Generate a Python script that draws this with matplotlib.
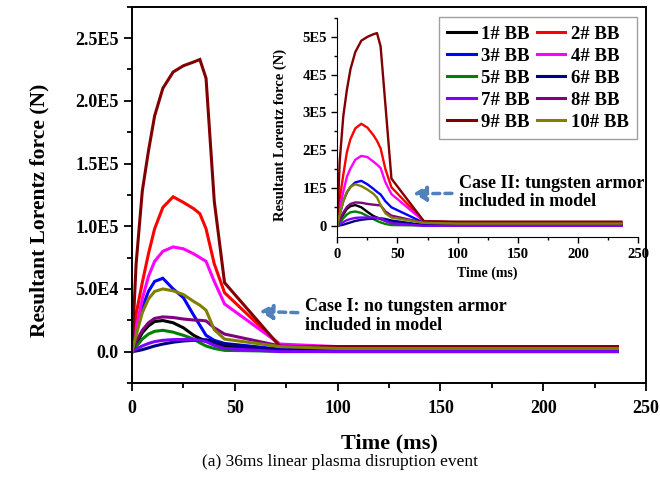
import matplotlib
matplotlib.use("Agg")
import matplotlib.pyplot as plt
from matplotlib.ticker import FixedLocator, MultipleLocator, FuncFormatter

plt.rcParams['font.family'] = ['Liberation Serif', 'DejaVu Serif']
plt.rcParams['font.weight'] = 'bold'

# time points (ms)
t = [0, 2, 5, 8, 11, 15, 20, 25, 30, 33, 36, 40, 45, 72, 100, 150, 200, 236]

names = ['1# BB', '2# BB', '3# BB', '4# BB', '5# BB',
         '6# BB', '7# BB', '8# BB', '9# BB', '10# BB']
colors = ['#000000', '#ff0000', '#0000ff', '#ff00ff', '#008000',
          '#000080', '#8000ff', '#800080', '#800000', '#808000']

# Case I: no tungsten armor (N)
case1_bb1 = [0, 6e3, 1.5e4, 2.05e4, 2.4e4, 2.48e4, 2.3e4, 1.9e4, 1.3e4, 1.05e4, 8.5e3, 7e3, 4e3, 5e2, 5e2, 5e2, 5e2, 5e2]
case1_bb2 = [0, 3.0e4, 5.5e4, 7.8e4, 9.8e4, 1.15e5, 1.235e5, 1.19e5, 1.14e5, 1.1e5, 9.8e4, 7.0e4, 4.7e4, 5e3, 3.5e3, 3.5e3, 3.5e3, 3.5e3]
case1_bb3 = [0, 1.5e4, 3.5e4, 4.8e4, 5.6e4, 5.85e4, 5.0e4, 4.3e4, 2.9e4, 2.1e4, 1.3e4, 9e3, 6.5e3, 2e3, 1.5e3, 1.5e3, 1.5e3, 1.5e3]
case1_bb4 = [0, 1.8e4, 4.2e4, 6.0e4, 7.2e4, 8.0e4, 8.35e4, 8.2e4, 7.8e4, 7.5e4, 7.2e4, 5.6e4, 3.8e4, 6e3, 4e3, 4e3, 4e3, 4e3]
case1_bb5 = [0, 4e3, 1.0e4, 1.4e4, 1.62e4, 1.7e4, 1.55e4, 1.3e4, 1.0e4, 7e3, 4.5e3, 2.5e3, 1e3, 3e2, 0, 0, 0, 0]
case1_bb6 = [0, 5e2, 1.5e3, 3e3, 4.5e3, 6e3, 7.5e3, 8.5e3, 9e3, 9.3e3, 9.5e3, 8e3, 6e3, 1e3, 5e2, 5e2, 5e2, 5e2]
case1_bb7 = [0, 2e3, 4.5e3, 6.5e3, 8e3, 9e3, 9.6e3, 9.7e3, 9.5e3, 9e3, 8e3, 5e3, 2.5e3, 0, 0, 0, 0, 0]
case1_bb8 = [0, 8e3, 1.7e4, 2.3e4, 2.65e4, 2.77e4, 2.72e4, 2.6e4, 2.52e4, 2.5e4, 2.45e4, 1.9e4, 1.4e4, 4.5e3, 3e3, 3e3, 3e3, 3e3]
case1_bb9 = [0, 7e4, 1.28e5, 1.6e5, 1.88e5, 2.1e5, 2.23e5, 2.28e5, 2.31e5, 2.33e5, 2.18e5, 1.2e5, 5.5e4, 4e3, 4e3, 4e3, 4e3, 4e3]
case1_bb10 = [0, 1.3e4, 3.1e4, 4.2e4, 4.8e4, 5.0e4, 4.85e4, 4.55e4, 4.0e4, 3.7e4, 3.3e4, 1.75e4, 1.0e4, 4e3, 2.5e3, 2.5e3, 2.5e3, 2.5e3]

# Case II: tungsten armor included (N)
case2_bb1 = [0, 1.3e4, 3e4, 4.5e4, 5.2e4, 5.5e4, 4.9e4, 3.7e4, 2.6e4, 2.2e4, 1.8e4, 1.3e4, 8e3, 2e3, 2e3, 2e3, 2e3, 2e3]
case2_bb2 = [0, 7e4, 1.35e5, 1.95e5, 2.3e5, 2.58e5, 2.7e5, 2.6e5, 2.4e5, 2.25e5, 2.05e5, 1.5e5, 1.02e5, 1.2e4, 9e3, 9e3, 9e3, 9e3]
case2_bb3 = [0, 3e4, 6.5e4, 8.8e4, 1.03e5, 1.15e5, 1.19e5, 1.1e5, 9.8e4, 9e4, 8.3e4, 6.5e4, 4.9e4, 8e3, 5e3, 5e3, 5e3, 5e3]
case2_bb4 = [0, 4.5e4, 9e4, 1.3e5, 1.52e5, 1.75e5, 1.85e5, 1.82e5, 1.7e5, 1.62e5, 1.53e5, 1.15e5, 8.4e4, 1.2e4, 9e3, 9e3, 9e3, 9e3]
case2_bb5 = [0, 8e3, 2e4, 3e4, 3.6e4, 3.8e4, 3.4e4, 2.6e4, 1.8e4, 1.3e4, 9e3, 5e3, 2e3, 1e3, 5e2, 5e2, 5e2, 5e2]
case2_bb6 = [0, 1e3, 3e3, 6e3, 9e3, 1.3e4, 1.6e4, 1.8e4, 1.9e4, 2e4, 2e4, 1.8e4, 1.4e4, 2e3, 1e3, 1e3, 1e3, 1e3]
case2_bb7 = [0, 4e3, 1e4, 1.5e4, 1.8e4, 2.1e4, 2.2e4, 2.2e4, 2.2e4, 2.1e4, 2e4, 1.3e4, 7e3, 0, 0, 0, 0, 0]
case2_bb8 = [0, 1.5e4, 3.5e4, 5e4, 5.8e4, 6.2e4, 6.1e4, 5.8e4, 5.6e4, 5.5e4, 5.4e4, 3.8e4, 2.7e4, 8e3, 6e3, 6e3, 6e3, 6e3]
case2_bb9 = [0, 1.7e5, 2.9e5, 3.6e5, 4.15e5, 4.6e5, 4.9e5, 5.0e5, 5.07e5, 5.1e5, 4.75e5, 3.2e5, 1.25e5, 1.2e4, 1.1e4, 1.1e4, 1.1e4, 1.1e4]
case2_bb10 = [0, 3e4, 6.5e4, 9e4, 1.03e5, 1.1e5, 1.05e5, 9.6e4, 8.5e4, 7.5e4, 5.5e4, 3.3e4, 2.2e4, 8e3, 6e3, 6e3, 6e3, 6e3]

case1 = [case1_bb1, case1_bb2, case1_bb3, case1_bb4, case1_bb5,
         case1_bb6, case1_bb7, case1_bb8, case1_bb9, case1_bb10]
case2 = [case2_bb1, case2_bb2, case2_bb3, case2_bb4, case2_bb5,
         case2_bb6, case2_bb7, case2_bb8, case2_bb9, case2_bb10]

fig = plt.figure(figsize=(6.6, 4.86), dpi=100)

# main axes
ax = fig.add_axes([0.2, 0.212, 0.779, 0.774])
handles = []
for vals, c, n in zip(case1, colors, names):
    h, = ax.plot(t, vals, color=c, lw=2.2, label=n, solid_joinstyle='miter')
    handles.append(h)

ax.set_xlim(0, 250)
ax.set_ylim(-2.5e4, 2.75e5)
ax.xaxis.set_major_locator(MultipleLocator(50))
ax.xaxis.set_minor_locator(MultipleLocator(25))
ax.yaxis.set_major_locator(FixedLocator([0, 5e4, 1e5, 1.5e5, 2e5, 2.5e5]))
ax.yaxis.set_minor_locator(MultipleLocator(2.5e4))

def main_fmt(v, pos):
    if v == 0:
        return '0.0'
    s = '%.1E' % v
    m, e = s.split('E')
    return m + 'E' + str(int(e))

ax.yaxis.set_major_formatter(FuncFormatter(main_fmt))
ax.tick_params(which='both', direction='out', top=False, right=False, width=1.3)
ax.tick_params(which='major', length=6, labelsize=13)
ax.tick_params(axis='x', which='major', pad=6)
ax.tick_params(which='minor', length=3.5)
for sp in ax.spines.values():
    sp.set_linewidth(1.4)
ax.set_xlabel('Time (ms)', fontsize=16, fontweight='bold', labelpad=12)
ax.set_ylabel('Resultant Lorentz force (N)', fontsize=15.5, fontweight='bold')
ax.yaxis.set_label_coords(-0.16, 0.46)

ax.annotate('Case I: no tungsten armor\nincluded in model', xy=(62, 3.2e4), xytext=(84, 2.85e4),
            fontsize=13, fontweight='bold', va='center', ha='left', linespacing=1.1,
            arrowprops=dict(arrowstyle='-|>,head_length=0.6,head_width=0.35', color='#4f81bd',
                            lw=2.5, linestyle=(0, (2, 1.5)), shrinkA=3, shrinkB=0))

# inset axes
axi = fig.add_axes([0.511, 0.512, 0.456, 0.451])
axi.patch.set_alpha(0)
for vals, c in zip(case2, colors):
    axi.plot(t, vals, color=c, lw=1.7)
axi.set_xlim(0, 250)
axi.set_ylim(-3e4, 5.5e5)
axi.spines['top'].set_visible(False)
axi.spines['right'].set_visible(False)
axi.xaxis.set_major_locator(MultipleLocator(50))
axi.xaxis.set_minor_locator(MultipleLocator(25))
axi.yaxis.set_major_locator(FixedLocator([0, 1e5, 2e5, 3e5, 4e5, 5e5]))
axi.yaxis.set_minor_locator(MultipleLocator(5e4))

def inset_fmt(v, pos):
    if v == 0:
        return '0'
    return '%dE5' % round(v / 1e5)

axi.yaxis.set_major_formatter(FuncFormatter(inset_fmt))
axi.tick_params(which='both', direction='out', width=1)
axi.tick_params(which='major', length=4, labelsize=10.5)
axi.tick_params(which='minor', length=2.5)
axi.set_xlabel('Time (ms)', fontsize=10, fontweight='bold')
axi.set_ylabel('Resultant Lorentz force (N)', fontsize=10.5, fontweight='bold')
axi.yaxis.set_label_coords(-0.166, 0.466)

axi.annotate('Case II: tungsten armor\nincluded in model', xy=(63, 8.5e4), xytext=(101, 8.8e4),
             fontsize=13, fontweight='bold', va='center', ha='left', linespacing=1.1,
             annotation_clip=False,
             arrowprops=dict(arrowstyle='-|>,head_length=0.6,head_width=0.35', color='#4f81bd',
                             lw=2.5, linestyle=(0, (2, 1.5)), shrinkA=3, shrinkB=0))

order = [0, 2, 4, 6, 8, 1, 3, 5, 7, 9]
leg = fig.legend([handles[i] for i in order], [names[i] for i in order],
                 loc='upper left', bbox_to_anchor=(439 / 660, 1 - 17 / 486),
                 borderaxespad=0, ncol=2, fontsize=13.5, frameon=True, fancybox=False,
                 edgecolor='#888888', handlelength=1.5, handletextpad=0.3,
                 columnspacing=0.4, labelspacing=0.26, borderpad=0.45)
leg.get_frame().set_linewidth(1.0)
for txt in leg.get_texts():
    txt.set_fontweight('bold')

fig.text(0.515, 0.049, '(a) 36ms linear plasma disruption event', fontsize=12.5,
         fontweight='normal', ha='center', va='center')

fig.savefig('out.png', dpi=100)
